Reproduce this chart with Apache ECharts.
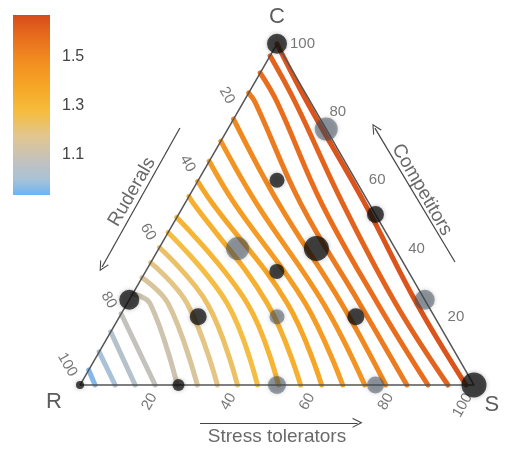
<!DOCTYPE html>
<html><head><meta charset="utf-8">
<script src="https://cdn.jsdelivr.net/npm/echarts@6/dist/echarts.min.js"></script>
<style>html,body{margin:0;padding:0;background:#fff}#main{width:505px;height:450px}</style>
</head><body><div id="main"></div>
<script>
// ---------------- data ----------------
const tickValues = [20, 40, 60, 80, 100];
const colorbarTicks = [1.1, 1.3, 1.5];
const colorbarMin = 0.937, colorbarMax = 1.671;
const vertexNames = ['R', 'S', 'C'];
const axisTitles = ['Ruderals', 'Stress tolerators', 'Competitors'];
// contour levels (one per line)
const contourLevels = [0.96, 1.00, 1.04, 1.08, 1.11, 1.15, 1.19, 1.23, 1.27, 1.31, 1.34, 1.38, 1.42, 1.46, 1.50, 1.54, 1.58, 1.61, 1.65];
// contour paths, points as [S%, C%]
const contourPaths = [
  [[0, 4.41], [3.82, 0]],
  [[0, 9.71], [8.91, 0]],
  [[0, 15.59], [13.99, 0]],
  [[0, 20.88], [19.08, 0]],
  [[0, 26.76], [5.90, 23.82], [24.68, 0]],
  [[0, 31.47], [10.48, 23.82], [29.77, 0]],
  [[0, 35.88], [15.32, 23.82], [34.86, 0]],
  [[0, 40.29], [20.41, 23.82], [39.95, 0]],
  [[0, 44.71], [25.49, 23.82], [45.04, 0]],
  [[0, 49.12], [30.58, 23.82], [50.38, 0]],
  [[0, 55.29], [2.13, 53.24], [35.67, 23.82], [55.98, 0]],
  [[0, 59.71], [6.97, 53.24], [40.76, 23.82], [61.32, 0]],
  [[0, 65.59], [12.57, 53.24], [45.34, 23.82], [66.67, 0]],
  [[0, 71.47], [18.16, 53.24], [49.92, 23.82], [72.26, 0]],
  [[0, 77.94], [23.76, 53.24], [54.50, 23.82], [77.61, 0]],
  [[0, 85.59], [3.21, 82.65], [29.36, 53.24], [59.08, 23.82], [82.95, 0]],
  [[0, 91.47], [8.81, 82.65], [34.70, 53.24], [63.66, 23.82], [88.30, 0]],
  [[0, 96.47], [13.39, 82.65], [40.05, 53.24], [68.24, 23.82], [93.38, 0]],
  [[0, 100], [16.44, 82.65], [45.64, 53.24], [73.59, 23.82], [97.96, 0]]
];
// observed communities
const pointS = [0, 25, 20, 50, 20, 40, 33.3, 0, 20, 40, 60, 75, 25, 50, 75, 100, 0];
const pointC = [100, 75, 60, 50, 40, 40, 33.3, 25, 20, 20, 20, 25, 0, 0, 0, 0, 0];
const pointAbundance = [20, 23, 15, 17, 23, 25, 15, 20, 17, 15, 17, 20, 12, 18, 17, 25, 8];
const pointGrey = [0, 1, 0, 0, 1, 0, 0, 0, 0, 1, 0, 1, 0, 1, 1, 0, 0];

// ---------------- helpers ----------------
const SQ = Math.sqrt(3) / 2;
function tern(s, c) { return [s + c / 2, c * SQ]; }
const FONT = '"Liberation Sans", Arial, Helvetica, sans-serif';
const colorStops = [
  [0.937, '#6db3f2'], [1.0, '#a8c2d8'], [1.08, '#c4c2bc'], [1.18, '#e2c68e'],
  [1.28, '#f6bc3c'], [1.38, '#f6a626'], [1.48, '#f28e20'], [1.58, '#e86e1e'], [1.671, '#d64c1a']
];
function hex2rgb(h) { return [parseInt(h.substr(1, 2), 16), parseInt(h.substr(3, 2), 16), parseInt(h.substr(5, 2), 16)]; }
function colorAt(v) {
  for (let i = 0; i < colorStops.length - 1; i++) {
    const a = colorStops[i], b = colorStops[i + 1];
    if (v <= b[0] || i === colorStops.length - 2) {
      const t = Math.max(0, Math.min(1, (v - a[0]) / (b[0] - a[0])));
      const ca = hex2rgb(a[1]), cb = hex2rgb(b[1]);
      const c = ca.map((x, k) => Math.round(x + (cb[k] - x) * t));
      return 'rgb(' + c.join(',') + ')';
    }
  }
}
function textSeries(items, label, z) {
  return {
    type: 'scatter', xAxisIndex: 0, yAxisIndex: 0, symbolSize: 1, silent: true, clip: false, z: z || 6,
    itemStyle: { color: 'transparent' },
    data: items.map(it => ({ value: [it.p[0], it.p[1], it.t] })),
    label: Object.assign({ show: true, position: 'inside', fontFamily: FONT, formatter: p => p.value[2] }, label)
  };
}

const chart = echarts.init(document.getElementById('main'), null, { renderer: 'canvas' });

const contourSeries = contourPaths.map((pts, i) => ({
  type: 'line', xAxisIndex: 0, yAxisIndex: 0, data: pts.map(p => tern(p[0], p[1])),
  smooth: 0.4, showSymbol: false, symbol: 'none', silent: true, clip: false, z: 1,
  lineStyle: { color: colorAt(contourLevels[i]), width: 5, cap: 'round' }
}));

const arrowHead = 'path://M0,10 L5,0 L10,10 L8.8,10 L5,2.4 L1.2,10 Z';

const gradStops = colorStops.map(s => ({ offset: (s[0] - colorbarMin) / (colorbarMax - colorbarMin), color: s[1] }));

const series = [].concat(contourSeries, [
  { // triangle
    type: 'line', xAxisIndex: 0, yAxisIndex: 0, silent: true, clip: false, z: 3, symbol: 'none',
    data: [tern(0, 0), tern(100, 0), tern(0, 100), tern(0, 0)],
    lineStyle: { color: '#555', width: 1.5 }
  },
  { // axis arrows
    type: 'lines', coordinateSystem: 'cartesian2d', xAxisIndex: 0, yAxisIndex: 0, silent: true, clip: false, z: 3,
    symbol: ['none', arrowHead], symbolSize: [9, 10],
    lineStyle: { color: '#444', width: 1.2, opacity: 1 },
    data: [
      { coords: [tern(36, -11.1), tern(76, -11.1)] },
      { coords: [tern(-12.3, 75.3), tern(-11.7, 34.6)] },
      { coords: [tern(77.15, 36.05), tern(37.2, 75.3)] }
    ]
  },
  textSeries(tickValues.map(v => ({ p: tern(v + 0.1, -2.8), t: String(v) })),
    { align: 'right', verticalAlign: 'middle', rotate: 60, fontSize: 15, color: '#555' }),
  textSeries(tickValues.map(v => ({ p: tern(-3.04, 100 - v + 2.78), t: String(v) })),
    { align: 'right', verticalAlign: 'middle', rotate: -60, fontSize: 15, color: '#555' }),
  textSeries(tickValues.map(v => ({ p: tern(100 - v + 3.3, v), t: String(v) })),
    { align: 'left', verticalAlign: 'middle', fontSize: 15, color: '#555' }),
  textSeries([{ p: tern(-4.1, -5.0), t: vertexNames[0] }, { p: tern(107.5, -5.9), t: vertexNames[1] }, { p: tern(-3.95, 107.9), t: vertexNames[2] }],
    { align: 'center', verticalAlign: 'middle', fontSize: 22, color: '#333' }),
  textSeries([{ p: tern(-15.1, 56.6), t: axisTitles[0] }], { align: 'center', verticalAlign: 'middle', rotate: 60, fontSize: 19, color: '#444' }),
  textSeries([{ p: tern(57.6, -15.2), t: axisTitles[1] }], { align: 'center', verticalAlign: 'middle', fontSize: 19, color: '#444' }),
  textSeries([{ p: tern(58.2, 57.2), t: axisTitles[2] }], { align: 'center', verticalAlign: 'middle', rotate: -60, fontSize: 19, color: '#444' }),
  { // communities
    type: 'scatter', xAxisIndex: 0, yAxisIndex: 0, clip: false, z: 8, silent: true,
    data: pointS.map((s, i) => tern(s, pointC[i]).concat([pointAbundance[i], pointGrey[i]])),
    symbolSize: v => v[2],
    itemStyle: {
      color: p => p.value[3] ? 'rgba(70,82,95,0.66)' : 'rgba(14,14,14,0.92)',
      shadowBlur: 4, shadowColor: 'rgba(0,0,0,0.35)'
    }
  },
  { type: 'bar', xAxisIndex: 1, yAxisIndex: 1, stack: 'cb', barWidth: '100%', silent: true, data: [colorbarMin], itemStyle: { color: 'transparent' } },
  { type: 'bar', xAxisIndex: 1, yAxisIndex: 1, stack: 'cb', barWidth: '100%', silent: true, data: [colorbarMax - colorbarMin],
    itemStyle: { color: new echarts.graphic.LinearGradient(0, 1, 0, 0, gradStops) } }
]);

chart.setOption({
  animation: false,
  backgroundColor: '#fff',
  grid: [
    { left: 80, top: 43.8, width: 394, height: 341.2 },
    { left: 13, top: 15, width: 37, height: 180 }
  ],
  xAxis: [
    { type: 'value', gridIndex: 0, min: 0, max: 100, show: false },
    { type: 'category', gridIndex: 1, data: [''], show: false }
  ],
  yAxis: [
    { type: 'value', gridIndex: 0, min: 0, max: 100 * SQ, show: false },
    { type: 'value', gridIndex: 1, min: colorbarMin, max: colorbarMax, position: 'right',
      axisLine: { show: false }, axisTick: { show: false }, splitLine: { show: false },
      axisLabel: { customValues: colorbarTicks, fontSize: 16, color: '#444', margin: 12, fontFamily: FONT, formatter: v => v.toFixed(1) } }
  ],
  series: series
});
</script>
</body></html>
